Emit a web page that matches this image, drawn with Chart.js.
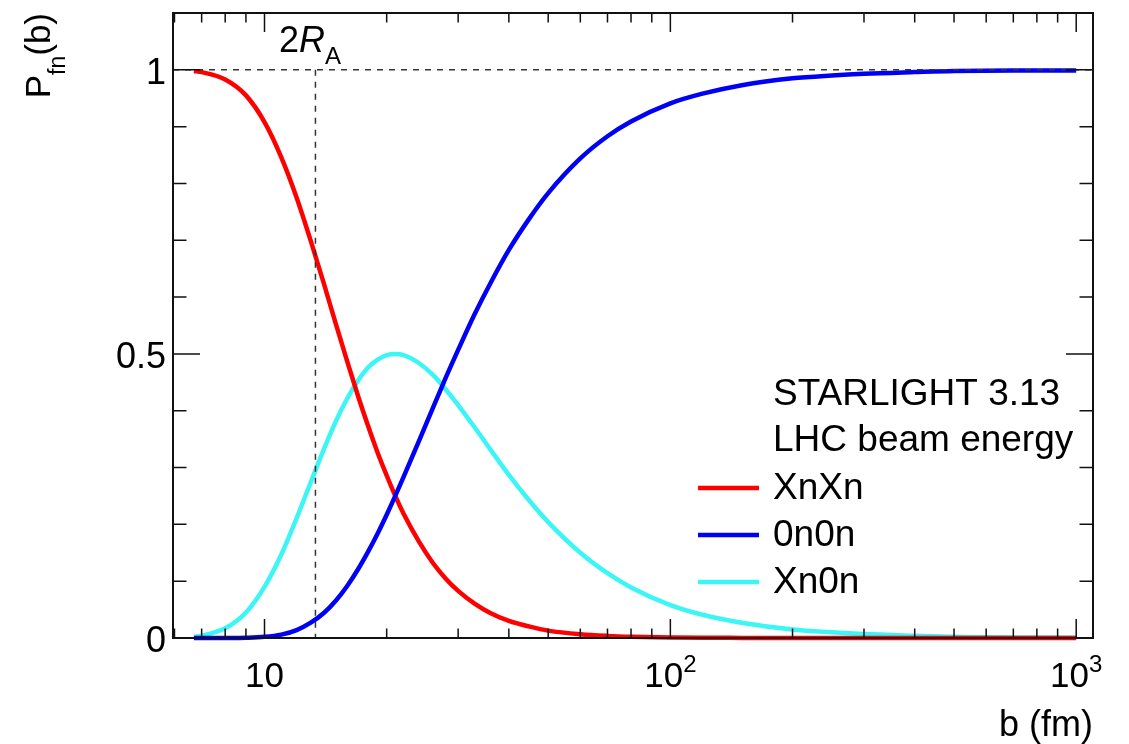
<!DOCTYPE html>
<html>
<head>
<meta charset="utf-8">
<title>P_fn(b)</title>
<script src="https://cdn.jsdelivr.net/npm/chart.js@4.4.1/dist/chart.umd.min.js"></script>
<style>
  html, body { margin: 0; padding: 0; background: #fff; }
  canvas { display: block; }
</style>
</head>
<body>
<canvas id="probChart" width="1129" height="744"></canvas>
<script>
// Impact parameter b (fm)
const impactParams = [6.7, 7, 8, 9, 10, 11, 12, 13, 14, 15, 16, 17, 18, 19, 20, 21, 22, 24, 26, 28, 30, 33, 36, 40, 45, 50, 60, 70, 80, 100, 120, 150, 200, 250, 300, 400, 500, 700, 1000];

// Neutron emission probabilities per channel
const probXnXn = [0.998, 0.996, 0.983, 0.955, 0.908, 0.846, 0.775, 0.699, 0.624, 0.552, 0.486, 0.426, 0.373, 0.326, 0.286, 0.250, 0.219, 0.170, 0.132, 0.104, 0.083, 0.060, 0.044, 0.030, 0.020, 0.013, 0.0066, 0.0037, 0.0022, 0.0009, 0.0004, 0.0002, 0.0001, 0, 0, 0, 0, 0, 0];
const prob0n0n = [0, 0, 0.0001, 0.0005, 0.002, 0.006, 0.014, 0.027, 0.044, 0.066, 0.092, 0.121, 0.152, 0.184, 0.217, 0.250, 0.283, 0.346, 0.405, 0.459, 0.507, 0.571, 0.624, 0.683, 0.739, 0.783, 0.844, 0.883, 0.909, 0.941, 0.958, 0.973, 0.985, 0.990, 0.993, 0.996, 0.998, 0.999, 0.999];
const probXn0n = [0.002, 0.004, 0.017, 0.045, 0.090, 0.147, 0.211, 0.274, 0.332, 0.382, 0.422, 0.453, 0.476, 0.490, 0.498, 0.500, 0.498, 0.484, 0.463, 0.437, 0.410, 0.370, 0.332, 0.287, 0.241, 0.204, 0.150, 0.114, 0.089, 0.058, 0.041, 0.027, 0.015, 0.010, 0.007, 0.004, 0.002, 0.001, 0.0006];

// Axis ticks
const xMajorTicks = [10, 100, 1000];
const xMajorExp = ["", "2", "3"];
const xMinorTicks = [6, 7, 8, 9, 20, 30, 40, 50, 60, 70, 80, 90, 200, 300, 400, 500, 600, 700, 800, 900];
const yMajorTicks = [0, 0.5, 1];
const yMajorLabels = ["0", "0.5", "1"];
const yMinorTicks = [0.1, 0.2, 0.3, 0.4, 0.6, 0.7, 0.8, 0.9];

// Reference lines: unit probability and twice the nuclear radius
const unitLevel = 1;
const twoRA = 13.35;

const legendHeader = ["STARLIGHT 3.13", "LHC beam energy"];

const FONT = "'Liberation Sans', Arial, Helvetica, sans-serif";

function toPoints(values) {
    return impactParams.map((b, i) => ({ x: b, y: values[i] }));
}

// Draws the ROOT-style frame, ticks, labels, guide lines and legend
const rootFrame = {
    id: "rootFrame",
    afterDatasetsDraw(chart) {
        const { ctx, chartArea: a, scales: { x, y } } = chart;
        ctx.save();

        // dashed guides
        ctx.strokeStyle = "#333";
        ctx.lineWidth = 1.5;
        ctx.setLineDash([6, 6]);
        ctx.beginPath();
        const y1 = y.getPixelForValue(unitLevel);
        ctx.moveTo(a.left, y1);
        ctx.lineTo(a.right, y1);
        const xr = x.getPixelForValue(twoRA);
        ctx.moveTo(xr, y1);
        ctx.lineTo(xr, a.bottom);
        ctx.stroke();
        ctx.setLineDash([]);

        // ticks on all four sides
        ctx.strokeStyle = "#111";
        ctx.lineWidth = 1.5;
        ctx.beginPath();
        const xTick = (v, len) => {
            const px = x.getPixelForValue(v);
            ctx.moveTo(px, a.bottom); ctx.lineTo(px, a.bottom - len);
            ctx.moveTo(px, a.top); ctx.lineTo(px, a.top + len);
        };
        const yTick = (v, len) => {
            const py = y.getPixelForValue(v);
            ctx.moveTo(a.left, py); ctx.lineTo(a.left + len, py);
            ctx.moveTo(a.right, py); ctx.lineTo(a.right - len, py);
        };
        xMajorTicks.forEach(v => xTick(v, 19));
        xMinorTicks.forEach(v => xTick(v, 9.5));
        yMajorTicks.forEach(v => yTick(v, 27));
        yMinorTicks.forEach(v => yTick(v, 13.5));
        ctx.stroke();

        // frame
        ctx.strokeStyle = "#111";
        ctx.lineWidth = 2;
        ctx.strokeRect(a.left, a.top, a.right - a.left, a.bottom - a.top);

        ctx.fillStyle = "#000";
        ctx.textBaseline = "alphabetic";

        // y labels
        ctx.font = "36px " + FONT;
        ctx.textAlign = "right";
        yMajorTicks.forEach((v, i) => {
            ctx.fillText(yMajorLabels[i], 166, y.getPixelForValue(v) + 14);
        });

        // x labels, powers of ten
        ctx.textAlign = "left";
        xMajorTicks.forEach((v, i) => {
            const base = "10";
            const exp = xMajorExp[i];
            ctx.font = "35px " + FONT;
            const wb = ctx.measureText(base).width;
            ctx.font = "24px " + FONT;
            const we = exp ? ctx.measureText(exp).width : 0;
            const left = x.getPixelForValue(v) - (wb + we) / 2;
            ctx.font = "35px " + FONT;
            ctx.fillText(base, left, 687);
            if (exp) {
                ctx.font = "24px " + FONT;
                ctx.fillText(exp, left + wb, 672);
            }
        });

        // x title
        ctx.font = "36px " + FONT;
        ctx.textAlign = "right";
        ctx.fillText("b (fm)", a.right, 736);

        // y title, rotated
        ctx.save();
        ctx.translate(50, a.top);
        ctx.rotate(-Math.PI / 2);
        ctx.textAlign = "left";
        ctx.font = "35px " + FONT;
        const wP = ctx.measureText("P").width;
        const wB = ctx.measureText("(b)").width;
        ctx.font = "23px " + FONT;
        const wS = ctx.measureText("fn").width;
        let tx = -(wP + wS + wB);
        ctx.font = "35px " + FONT;
        ctx.fillText("P", tx, 0);
        ctx.font = "23px " + FONT;
        ctx.fillText("fn", tx + wP, 15);
        ctx.font = "35px " + FONT;
        ctx.fillText("(b)", tx + wP + wS, 0);
        ctx.restore();

        // 2R_A annotation
        ctx.textAlign = "left";
        ctx.font = "36px " + FONT;
        ctx.fillText("2", 279, 52);
        const w2 = ctx.measureText("2").width;
        ctx.font = "italic 36px " + FONT;
        ctx.fillText("R", 279 + w2, 52);
        const wR = ctx.measureText("R").width;
        ctx.font = "24px " + FONT;
        ctx.fillText("A", 279 + w2 + wR, 64);

        // legend
        ctx.font = "37px " + FONT;
        const textX = 773;
        ctx.fillText(legendHeader[0], textX, 405);
        ctx.fillText(legendHeader[1], textX, 451);
        const rows = [488, 535, 582];
        chart.data.datasets.forEach((ds, i) => {
            ctx.strokeStyle = ds.borderColor;
            ctx.lineWidth = 4.5;
            ctx.beginPath();
            ctx.moveTo(698, rows[i]);
            ctx.lineTo(759, rows[i]);
            ctx.stroke();
            ctx.fillStyle = "#000";
            ctx.fillText(ds.label, textX, rows[i] + 11);
        });

        ctx.restore();
    }
};

new Chart(document.getElementById("probChart"), {
    type: "line",
    data: {
        datasets: [
            { label: "XnXn", data: toPoints(probXnXn), borderColor: "#ff0000", order: 1 },
            { label: "0n0n", data: toPoints(prob0n0n), borderColor: "#0000f5", order: 0 },
            { label: "Xn0n", data: toPoints(probXn0n), borderColor: "#3cf5f5", order: 2 }
        ]
    },
    options: {
        responsive: false,
        animation: false,
        devicePixelRatio: 1,
        layout: { padding: { left: 173, top: 13, right: 36, bottom: 106 } },
        scales: {
            x: { type: "logarithmic", min: 5.95, max: 1100, display: false },
            y: { type: "linear", min: 0, max: 1.1, display: false }
        },
        elements: {
            point: { radius: 0 },
            line: { borderWidth: 4.5, cubicInterpolationMode: "monotone", fill: false }
        },
        datasets: { line: { clip: false } },
        plugins: { legend: { display: false }, tooltip: { enabled: false } }
    },
    plugins: [rootFrame]
});
</script>
</body>
</html>
